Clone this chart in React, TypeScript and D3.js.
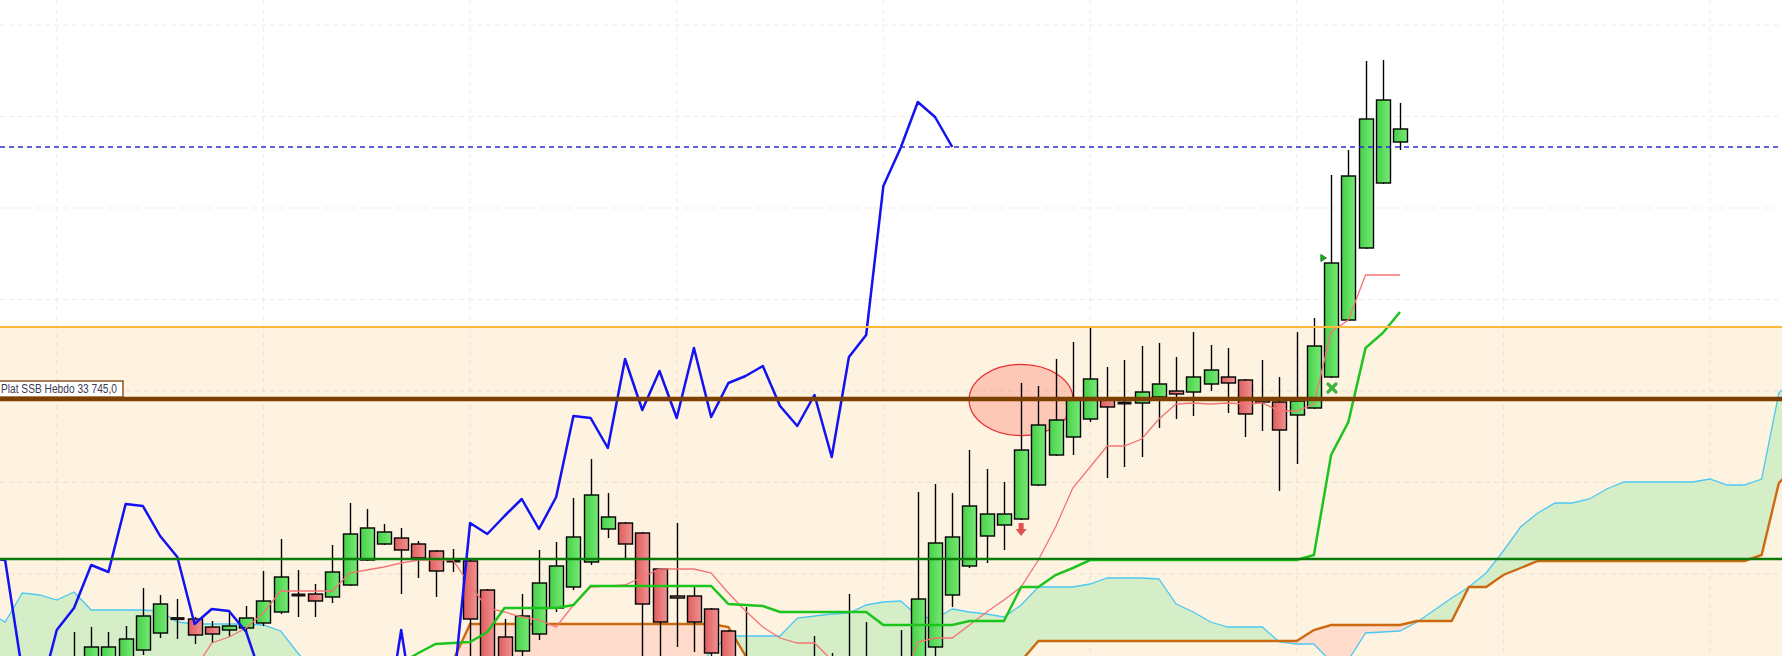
import React from "react";
import * as d3 from "d3";

const W = 1782;
const H = 656;

// ---- price candles (index 0..77) ----
const opens = [
  33062.5, 33072.5, 33082.5, 33087.5, 33117.5, 33160, 33196, 33195, 33175, 33167.5,
  33172.5, 33185, 33212.5, 33255, 33257.5, 33250, 33280, 33342.5, 33382.5, 33397.5,
  33382.5, 33365, 33340, 33340, 33267.5, 33150, 33115, 33157.5, 33222.5, 33275,
  33337.5, 33420, 33435, 33410, 33320, 33252.5, 33252.5, 33220, 33165, 33087.5,
  33055, 32992.5, 33017.5, 33047.5, 33072.5, 33042.5, 33067.5, 33042.5, 33017.5, 33042.5,
  33125, 33255, 33327.5, 33402.5, 33430, 33445, 33530, 33605, 33650, 33695,
  33745, 33735, 33735, 33750, 33765, 33762.5, 33782.5, 33800, 33792.5, 33747.5,
  33737.5, 33705, 33722.5, 33800, 33942.5, 34122.5, 34285, 34387.5,
];
const highs = [
  33162.5, 33175, 33162.5, 33177.5, 33272.5, 33255, 33245, 33200, 33190, 33210,
  33227.5, 33315, 33395, 33317.5, 33282.5, 33380, 33485, 33470, 33432.5, 33422.5,
  33390, 33367.5, 33370, 33342.5, 33270, 33195, 33257.5, 33367.5, 33387.5, 33497.5,
  33595, 33510, 33437.5, 33412.5, 33322.5, 33435, 33275, 33222.5, 33167.5, 33225,
  33080, 33067.5, 33072.5, 33152.5, 33110, 33257.5, 33187.5, 33080, 33167.5, 33512.5,
  33532.5, 33510, 33617.5, 33570, 33537.5, 33785, 33777.5, 33845, 33887.5, 33925,
  33825, 33842.5, 33877.5, 33885, 33850, 33912.5, 33880, 33872.5, 33795, 33842.5,
  33800, 33912.5, 33947.5, 34305, 34367.5, 34590, 34592.5, 34485,
];
const lows = [
  33017.5, 33042.5, 33055, 33067.5, 33105, 33147.5, 33145, 33132.5, 33135, 33150,
  33162.5, 33177.5, 33207.5, 33200, 33200, 33235, 33277.5, 33340, 33380, 33257.5,
  33297.5, 33250, 33312.5, 32992.5, 32992.5, 32992.5, 33080, 33142.5, 33212.5, 33267.5,
  33330, 33397.5, 33345, 33042.5, 33042.5, 33125, 33112.5, 33067.5, 32992.5, 32967.5,
  32942.5, 32930, 32942.5, 32992.5, 32992.5, 32967.5, 32980, 32980, 32992.5, 33017.5,
  33092.5, 33225, 33322.5, 33335, 33367.5, 33442.5, 33527.5, 33602.5, 33605, 33687.5,
  33547.5, 33575, 33600, 33672.5, 33695, 33702.5, 33765, 33710, 33650, 33665,
  33515, 33582.5, 33720, 33797.5, 33940, 34120, 34282.5, 34367.5,
];
const closes = [
  33092.5, 33125, 33125, 33145, 33202.5, 33232.5, 33196, 33155, 33157.5, 33177.5,
  33197.5, 33240, 33300, 33255, 33240, 33312.5, 33407.5, 33422.5, 33412.5, 33367.5,
  33347.5, 33315, 33340, 33195, 33072.5, 33042.5, 33202.5, 33285, 33327.5, 33400,
  33505, 33450, 33382.5, 33232.5, 33187.5, 33247.5, 33187.5, 33110, 33042.5, 33017.5,
  32992.5, 33017.5, 33042.5, 33080, 33042.5, 33067.5, 33055, 33055, 33067.5, 33245,
  33385, 33400, 33477.5, 33457.5, 33457.5, 33617.5, 33680, 33692.5, 33742.5, 33795,
  33725, 33735, 33762.5, 33782.5, 33757.5, 33800, 33817.5, 33785, 33707.5, 33737.5,
  33667.5, 33740, 33877.5, 34085, 34302.5, 34445, 34492.5, 34420,
];

// ---- Ichimoku lines (each with the index of its first point) ----
const chikouStart = -5;
const chikou = [
  33347.5, 33342.5, 33062.5, 33002.5, 33167.5,
  33222.5, 33330, 33312.5, 33482.5, 33477.5, 33402.5, 33350, 33182.5, 33220, 33215,
  33162.5, 33035, 32990, 32975, 32985, 33000, 32990, 32985, 32892.5, 33167.5,
  32892.5, 32942.5, 33007.5, 33435, 33407.5, 33452.5, 33495, 33420, 33500, 33702.5,
  33697.5, 33622.5, 33845, 33717.5, 33815, 33697.5, 33872.5, 33700, 33785, 33802.5,
  33827.5, 33727.5, 33677.5, 33755, 33600, 33850, 33905, 34277.5, 34372.5, 34487.5,
  34450, 34375,
];
const tenkanStart = 7;
const tenkan = [
  33067.5, 33135, 33150,
  33172.5, 33210, 33265, 33265, 33265, 33265, 33310, 33317.5, 33325, 33335,
  33342.5, 33342.5, 33342.5, 33280, 33222.5, 33212.5, 33200, 33192.5, 33175, 33230,
  33275, 33277.5, 33280, 33300, 33320, 33320, 33320, 33310, 33260, 33215,
  33175, 33147.5, 33135, 33135, 33092.5, 33050, 33040, 33030, 33015, 33137.5,
  33147.5, 33147.5, 33180, 33212.5, 33242.5, 33275, 33342.5, 33425, 33522.5, 33575,
  33627.5, 33627.5, 33645, 33695, 33732.5, 33735, 33732.5, 33735, 33732.5, 33735,
  33715, 33715, 33732.5, 33912.5, 33942.5, 34055, 34055, 34055,
];
const kijunStart = 18;
const kijun = [
  33055, 33085,
  33110, 33132.5, 33135, 33137.5, 33162.5, 33222.5, 33222.5, 33222.5, 33222.5, 33230,
  33277.5, 33277.5, 33277.5, 33277.5, 33277.5, 33277.5, 33277.5, 33277.5, 33232.5, 33230,
  33227.5, 33212.5, 33212.5, 33212.5, 33212.5, 33212.5, 33212.5, 33180, 33180, 33180,
  33180, 33180, 33190, 33190, 33190, 33275, 33275, 33305, 33322.5, 33342.5,
  33342.5, 33342.5, 33342.5, 33342.5, 33342.5, 33342.5, 33342.5, 33342.5, 33342.5, 33342.5,
  33342.5, 33342.5, 33355, 33605, 33687.5, 33872.5, 33910, 33962.5,
];
const cloudStart = -5;
const senkouA = [
  33212.5, 33187.5, 33260, 33255, 33242.5,
  33262.5, 33217.5, 33217.5, 33217.5, 33217.5, 33215, 33187.5, 33182.5, 33182.5, 33182.5,
  33182.5, 33180, 33165, 33110, 33062.5, 33017.5, 33000, 32990, 32985, 32980,
  32975, 32970, 32975, 32980, 32990, 33000, 32995, 32990, 32985, 32990,
  33000, 33010, 33000, 33010, 33020, 33010, 33067.5, 33112.5, 33152.5, 33152.5,
  33152.5, 33152.5, 33197.5, 33202.5, 33207.5, 33210, 33230, 33237.5, 33240, 33202.5,
  33195, 33220, 33212.5, 33207.5, 33200, 33230, 33275, 33275, 33275, 33282.5,
  33297.5, 33297.5, 33297.5, 33295, 33232.5, 33212.5, 33187.5, 33175, 33175, 33175,
  33137.5, 33132.5, 33132.5, 33087.5, 33092.5, 33160, 33162.5, 33165, 33187.5, 33217.5,
  33247.5, 33275, 33310, 33365, 33425, 33460, 33485, 33485, 33495, 33520,
  33537.5, 33537.5, 33537.5, 33537.5, 33537.5, 33545, 33530, 33530, 33545, 33760,
  33805,
];
const senkouB = [
  32992.5, 32992.5, 32992.5, 32992.5, 32992.5,
  32992.5, 32992.5, 32992.5, 32992.5, 32992.5, 32992.5, 32992.5, 32992.5, 32992.5, 32992.5,
  32992.5, 32992.5, 32992.5, 32992.5, 32990, 32990, 32990, 32990, 32990, 32990,
  32990, 32990, 33090, 33182.5, 33182.5, 33182.5, 33182.5, 33182.5, 33182.5, 33182.5,
  33182.5, 33182.5, 33182.5, 33182.5, 33182.5, 33182.5, 33182.5, 33182.5, 33175, 33102.5,
  33017.5, 32992.5, 32992.5, 32992.5, 32992.5, 32992.5, 32992.5, 32992.5, 32992.5, 32992.5,
  32992.5, 32992.5, 32992.5, 32992.5, 33017.5, 33090, 33140, 33140, 33140, 33140,
  33140, 33140, 33140, 33140, 33140, 33140, 33140, 33140, 33140, 33140,
  33140, 33140, 33167.5, 33180, 33180, 33180, 33180, 33180, 33190, 33190,
  33190, 33275, 33275, 33305, 33322.5, 33340, 33340, 33340, 33340, 33340,
  33340, 33340, 33340, 33340, 33340, 33340, 33340, 33340, 33355, 33535,
  33580,
];

// ---- grid & levels ----
const gridPrices = [34680, 34451.25, 34222.5, 33993.75, 33765, 33536.25, 33307.5];
const gridIndices = [-1, 11, 23, 35, 47, 59, 71, 83, 95];

const levelOrange = 33925;
const levelSSBWeekly = 33745;
const levelGreen = 33345;
const lastPrice = 34375;
const levelLabel = "Plat SSB Hebdo 33 745,0";

const ellipseMark = { idx: 55, price: 33742.5, idxHalf: 3.02, priceHalf: 89 };
const arrowMark = { idx: 55, price: 33435 };
const triangleMark = { idx: 72.55, price: 34097.5 };
const crossMark = { idx: 73.05, price: 33772.5 };

export default function App() {
  const x = d3.scaleLinear().domain([0, 77]).range([74, 1400]);
  const y = d3.scaleLinear().domain([33102.5, 34742.5]).range([H, 0]);
  const bodyW = 14;

  const lineFrom = (start: number) =>
    d3.line<number>().x((_, i) => x(start + i)).y((d) => y(d));

  const cloud = senkouA.map((a, i) => ({ i: cloudStart + i, a, b: senkouB[i] }));
  const band = d3.area<any>().x((d) => x(d.i)).y0((d) => y(d.b)).y1((d) => y(d.a));
  const aboveB = d3.area<any>().x((d) => x(d.i)).y0(-20).y1((d) => y(d.b));
  const belowB = d3.area<any>().x((d) => x(d.i)).y0((d) => y(d.b)).y1(H + 20);

  const ex = x(ellipseMark.idx);
  const ey = y(ellipseMark.price);
  const erx = x(ellipseMark.idx + ellipseMark.idxHalf) - ex;
  const ery = y(ellipseMark.price - ellipseMark.priceHalf) - ey;

  const ax = x(arrowMark.idx);
  const ay = y(arrowMark.price);
  const tx = x(triangleMark.idx);
  const ty = y(triangleMark.price);
  const kx = x(crossMark.idx);
  const ky = y(crossMark.price);
  const yBrown = y(levelSSBWeekly);

  return (
    <>
      <style>{"html,body{margin:0;padding:0;overflow:hidden;background:#fff;}"}</style>
      <svg width={W} height={H} style={{ display: "block" }} xmlns="http://www.w3.org/2000/svg">
        <defs>
          <linearGradient id="gUp" x1="0" x2="1" y1="0" y2="0">
            <stop offset="0" stopColor="#48cf48" />
            <stop offset="1" stopColor="#76ea76" />
          </linearGradient>
          <linearGradient id="gDn" x1="0" x2="1" y1="0" y2="0">
            <stop offset="0" stopColor="#de5e5e" />
            <stop offset="1" stopColor="#f29292" />
          </linearGradient>
          <clipPath id="clipAbove">
            <path d={aboveB(cloud) || ""} />
          </clipPath>
          <clipPath id="clipBelow">
            <path d={belowB(cloud) || ""} />
          </clipPath>
        </defs>

        <rect x={0} y={0} width={W} height={H} fill="#ffffff" />
        <rect x={0} y={y(levelOrange)} width={W} height={H - y(levelOrange)} fill="#fef3e1" />

        {/* grid */}
        {gridPrices.map((p, i) => (
          <line key={"gh" + i} x1={0} x2={W} y1={y(p)} y2={y(p)} stroke="#000" strokeOpacity={0.07} strokeDasharray="5,4" />
        ))}
        {gridIndices.map((g, i) => (
          <line key={"gv" + i} x1={x(g)} x2={x(g)} y1={0} y2={H} stroke="#000" strokeOpacity={0.07} strokeDasharray="5,4" />
        ))}

        {/* cloud */}
        <path d={band(cloud) || ""} fill="#d5eec8" clipPath="url(#clipAbove)" />
        <path d={band(cloud) || ""} fill="#ffdccb" clipPath="url(#clipBelow)" />
        <path d={lineFrom(cloudStart)(senkouA) || ""} fill="none" stroke="#4cc8f2" strokeWidth={1.3} />
        <path d={lineFrom(cloudStart)(senkouB) || ""} fill="none" stroke="#cc6a12" strokeWidth={2.4} />

        {/* highlight ellipse */}
        <ellipse cx={ex} cy={ey} rx={erx} ry={ery} fill="rgba(255,125,105,0.36)" stroke="#e83232" strokeWidth={1.3} />

        {/* candles */}
        {opens.map((o, i) => {
          const c = closes[i];
          const cx = Math.round(x(i)) + 0.5;
          const top = y(Math.max(o, c));
          const bot = y(Math.min(o, c));
          const doji = o === c;
          return (
            <g key={"c" + i}>
              <line x1={cx} x2={cx} y1={y(highs[i])} y2={y(lows[i])} stroke="#000" strokeWidth={1.4} />
              {doji ? (
                <rect x={cx - bodyW / 2} y={top - 1.5} width={bodyW} height={3} fill="#111" />
              ) : (
                <rect
                  x={cx - bodyW / 2}
                  y={top}
                  width={bodyW}
                  height={Math.max(bot - top, 2)}
                  fill={c > o ? "url(#gUp)" : "url(#gDn)"}
                  stroke="#000"
                  strokeWidth={1.4}
                />
              )}
            </g>
          );
        })}

        {/* indicator lines */}
        <path d={lineFrom(tenkanStart)(tenkan) || ""} fill="none" stroke="#f37474" strokeWidth={1.3} />
        <path d={lineFrom(kijunStart)(kijun) || ""} fill="none" stroke="#1ec41e" strokeWidth={2.5} />
        <path d={lineFrom(chikouStart)(chikou) || ""} fill="none" stroke="#1212f2" strokeWidth={2.5} strokeLinejoin="round" />

        {/* horizontal levels */}
        <line x1={0} x2={W} y1={y(lastPrice)} y2={y(lastPrice)} stroke="#2e2ed2" strokeWidth={1.3} strokeDasharray="5,4" />
        <line x1={0} x2={W} y1={y(levelOrange)} y2={y(levelOrange)} stroke="#ffb938" strokeWidth={2} />
        <line x1={0} x2={W} y1={y(levelGreen)} y2={y(levelGreen)} stroke="#0a7a0a" strokeWidth={2.5} />
        <line x1={0} x2={W} y1={yBrown} y2={yBrown} stroke="#7b3f00" strokeWidth={4.5} />

        {/* level label */}
        <rect x={-2} y={yBrown - 18} width={125} height={16} fill="#ffffff" stroke="#7b3f00" strokeWidth={1.3} />
        <text
          x={1}
          y={yBrown - 6}
          textAnchor="start"
          textLength={116}
          lengthAdjust="spacingAndGlyphs"
          fontFamily="'Liberation Sans', Arial, sans-serif"
          fontSize={12}
          fill="#3a3a55"
        >
          {levelLabel}
        </text>

        {/* markers */}
        <path
          d={`M${ax - 2.5},${ay} L${ax + 2.5},${ay} L${ax + 2.5},${ay + 6} L${ax + 5.5},${ay + 6} L${ax},${ay + 13} L${ax - 5.5},${ay + 6} L${ax - 2.5},${ay + 6} Z`}
          fill="#e25252"
        />
        <path d={`M${tx - 2.5},${ty - 3.5} L${tx + 3},${ty} L${tx - 2.5},${ty + 3.5} Z`} fill="#22a822" stroke="#1c8c1c" strokeWidth={1} />
        <g stroke="#3ab53a" strokeWidth={3.2} strokeLinecap="round">
          <line x1={kx - 4} y1={ky - 4} x2={kx + 4} y2={ky + 4} />
          <line x1={kx + 4} y1={ky - 4} x2={kx - 4} y2={ky + 4} />
        </g>
      </svg>
    </>
  );
}
